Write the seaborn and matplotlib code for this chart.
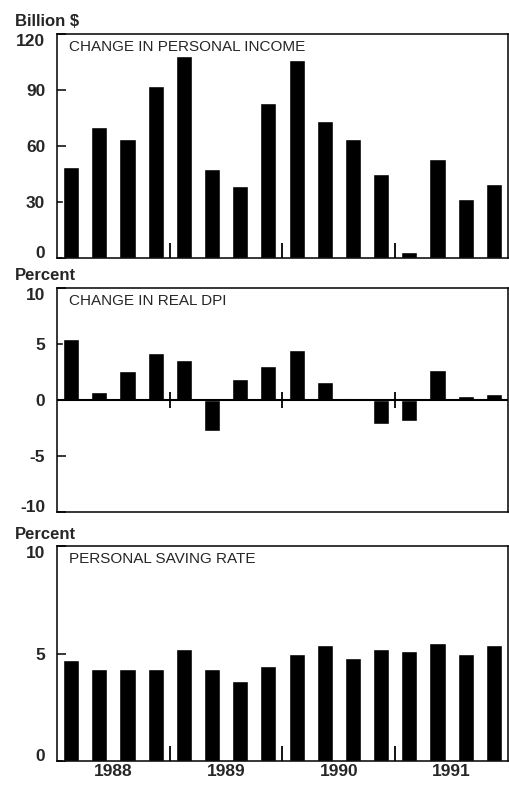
"""
plot.py

Three stacked bar panels of quarterly personal income figures, 1988-1991.
"""

import numpy as np
import pandas as pd
import matplotlib
matplotlib.use("Agg")
import matplotlib.pyplot as plt
import seaborn as sns

# ================= DATA =================
YEARS = ["1988", "1989", "1990", "1991"]
QUARTERS = [f"{y}Q{q}" for y in YEARS for q in range(1, 5)]

# Change in personal income, billion $
PERSONAL_INCOME = [49, 70, 64, 92, 108, 47.5, 38.5, 83, 106, 73.5,
                   63.5, 45, 3, 53, 31.5, 39.5]

# Change in real DPI, percent
REAL_DPI = [5.45, 0.75, 2.6, 4.2, 3.6, -2.8, 1.9, 3.0, 4.5, 1.6,
            0.2, -2.1, -1.85, 2.65, 0.35, 0.55]

# Personal saving rate, percent
SAVING_RATE = [4.7, 4.3, 4.3, 4.3, 5.2, 4.3, 3.7, 4.4, 5.0, 5.4,
               4.8, 5.2, 5.1, 5.5, 5.0, 5.4]

PANELS = [
    dict(title="CHANGE IN PERSONAL INCOME", unit="Billion $",
         values=PERSONAL_INCOME, ylim=(0, 120), yticks=[0, 30, 60, 90, 120]),
    dict(title="CHANGE IN REAL DPI", unit="Percent",
         values=REAL_DPI, ylim=(-10, 10), yticks=[-10, -5, 0, 5, 10]),
    dict(title="PERSONAL SAVING RATE", unit="Percent",
         values=SAVING_RATE, ylim=(0, 10), yticks=[0, 5, 10]),
]
# ========================================

W, H = 510, 785
DPI = 100

# axes boxes in pixels: (left, top, right, bottom)
BOXES = [(57, 34, 508, 258), (57, 288, 508, 512), (57, 546, 508, 761)]
UNIT_BASELINES = [26, 280, 539]

sns.set_theme(style="white")
plt.rcParams["font.family"] = ["Liberation Sans", "DejaVu Sans"]

fig = plt.figure(figsize=(W / DPI, H / DPI), dpi=DPI)

n = len(QUARTERS)
year_bounds = [4 * i - 0.5 for i in range(1, len(YEARS))]
year_centers = [4 * i + 1.5 for i in range(len(YEARS))]

for i, (panel, box) in enumerate(zip(PANELS, BOXES)):
    l, t, r, b = box
    ax = fig.add_axes([l / W, 1 - b / H, (r - l) / W, (b - t) / H])

    df = pd.DataFrame({"quarter": QUARTERS, "value": panel["values"]})
    sns.barplot(data=df, x="quarter", y="value", color="black",
                width=0.57, saturation=1, ax=ax)

    ax.set_xlim(-0.5, n - 0.5)
    ax.set_ylim(*panel["ylim"])
    ax.set_yticks(panel["yticks"])
    ax.set_yticklabels([str(v) for v in panel["yticks"]],
                       fontsize=12.5, fontweight="bold")
    ax.set_xlabel("")
    ax.set_ylabel("")

    # end labels sit inside the frame, like the original
    yt = ax.yaxis.get_major_ticks()
    yt[0].label1.set_verticalalignment("baseline")
    yt[-1].label1.set_verticalalignment("top")

    for sp in ax.spines.values():
        sp.set_visible(True)
        sp.set_color("black")
        sp.set_linewidth(1.1)

    ax.tick_params(axis="y", direction="in", length=6.5, width=1.1,
                   color="black", pad=8.5, left=True)

    # year marks and labels
    ax.set_xticks(year_centers)
    if i == len(PANELS) - 1:
        ax.set_xticklabels(YEARS, fontsize=12.5, fontweight="bold")
    else:
        ax.set_xticklabels([])
    ax.tick_params(axis="x", which="major", length=0, pad=2)

    if panel["ylim"][0] < 0:
        ax.axhline(0, color="black", lw=1.5, zorder=3)
        ax.vlines(year_bounds, -0.75, 0.75, color="black", lw=1.3, zorder=3)
        ax.set_xticks(year_bounds, minor=True)
        ax.tick_params(axis="x", which="minor", length=0)
    else:
        ax.set_xticks(year_bounds, minor=True)
        ax.tick_params(axis="x", which="minor", direction="in", length=11,
                       width=1.3, color="black", bottom=True)

    ax.text(12 / (r - l), 1 - 17 / (b - t), panel["title"],
            transform=ax.transAxes, fontsize=11, va="baseline", ha="left")

    fig.text(15 / W, 1 - UNIT_BASELINES[i] / H, panel["unit"],
             fontsize=12, fontweight="bold", va="baseline", ha="left")

fig.savefig("out.png", dpi=DPI)
